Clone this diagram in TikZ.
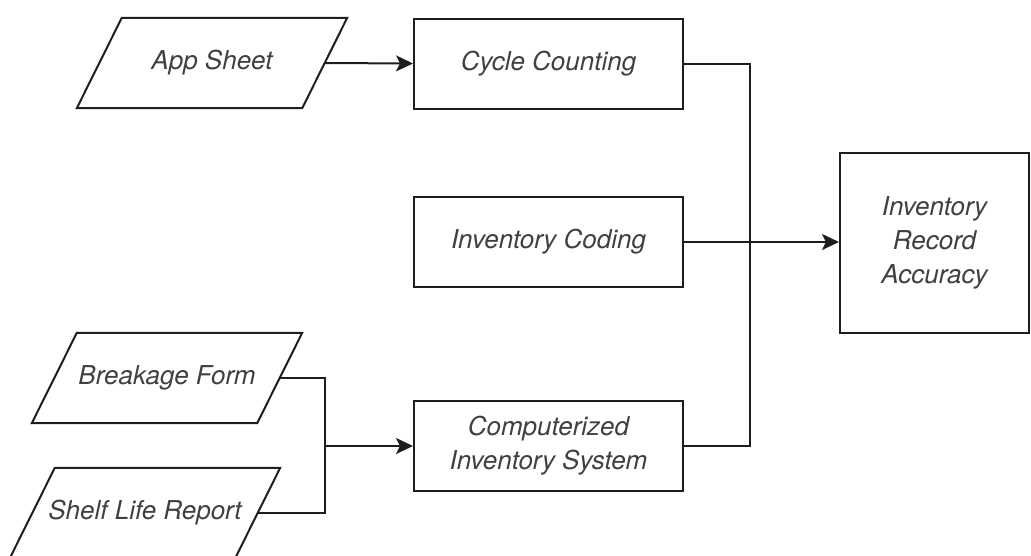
\documentclass[tikz,border=0pt]{standalone}
\usepackage{fontspec}
\setmainfont{TeX Gyre Heros}
\usetikzlibrary{calc,arrows.meta}
\definecolor{labelgray}{RGB}{64,64,64}
\definecolor{linegray}{RGB}{30,30,30}
\begin{document}
\begin{tikzpicture}[x=1pt,y=1pt,
  every node/.style={font=\fontsize{26}{34}\selectfont\itshape, text=labelgray, align=center},
  procbox/.style={draw=linegray, line width=2pt, fill=white, minimum width=269pt, minimum height=90pt, inner sep=0pt},
  iobox/.style={minimum width=225pt, minimum height=90pt, inner sep=0pt},
  link/.style={draw=linegray, line width=2pt},
  flow/.style={link, -{Stealth[length=17pt,width=16pt,inset=4pt]}}
]
\useasboundingbox (0,0) rectangle (1031,-555);

% input/output parallelograms (text holders; outlines drawn below)
\node[iobox] (app)   at (212,-63)  {App Sheet};
\node[iobox] (brk)   at (167,-378) {Breakage Form};
\node[iobox] (shelf) at (145,-513) {Shelf Life Report};
\foreach \n in {app,brk,shelf}
  \draw[link, line join=miter]
    ($(\n.north west)+(22.5,0)$) -- ($(\n.north east)+(22.5,0)$) --
    ($(\n.south east)-(22.5,0)$) -- ($(\n.south west)-(22.5,0)$) -- cycle;

% process boxes
\node[procbox] (cycle)  at (548.5,-63.5) {Cycle Counting};
\node[procbox] (coding) at (548.5,-242)  {Inventory Coding};
\node[procbox] (comp)   at (548.5,-446)  {Computerized\\Inventory System};
\node[procbox, minimum width=189pt, minimum height=180pt] (ira) at (934.5,-243)
  {Inventory\\Record\\Accuracy};

% connectors
\coordinate (merge) at (325,-446);
\coordinate (bus) at (750,0);
\draw[flow] (app.east) -- (cycle.west);
\draw[link] (brk.east) -| (merge) |- (shelf.east);
\draw[flow] (merge) -- (comp.west);
\draw[link] (cycle.east) -| (bus |- comp.east) -- (comp.east);
\draw[flow] (coding.east) -- (ira.west |- coding.east);
\end{tikzpicture}
\end{document}
